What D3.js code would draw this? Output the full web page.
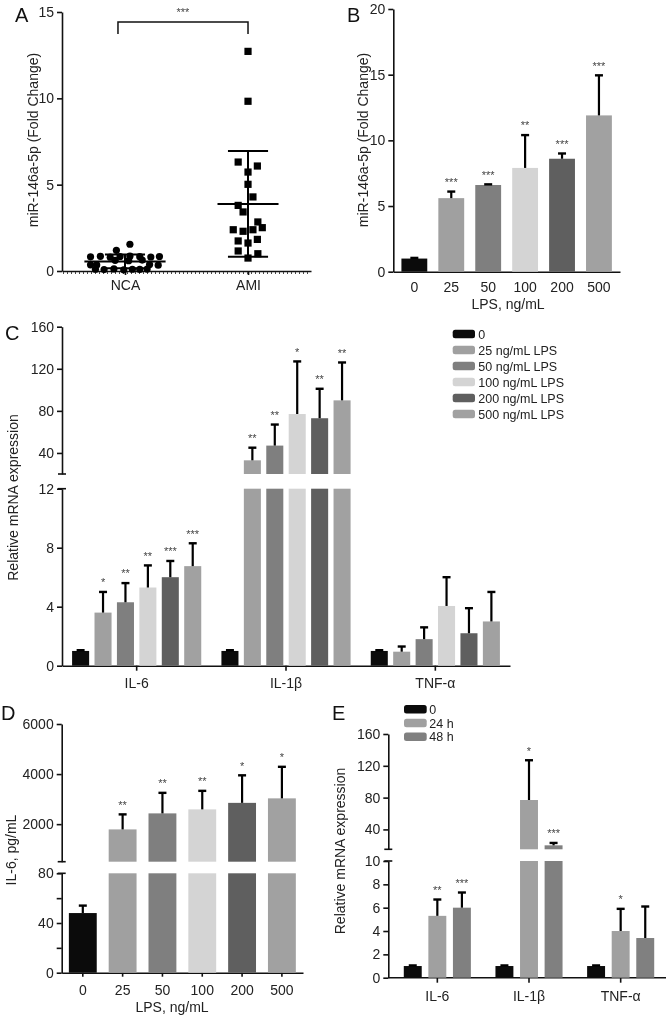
<!DOCTYPE html>
<html>
<head>
<meta charset="utf-8">
<script src="https://cdn.jsdelivr.net/npm/d3@7"></script>
<style>
  body { margin: 0; background: #fff; }
  svg { font-family: "Liberation Sans", Arial, Helvetica, sans-serif; will-change: transform; }
  .axis .tick text { font-size: 14px; fill: #222; }
  .axis path, .axis line { stroke: #111; stroke-width: 1.6; }
  .lbl { font-size: 14px; fill: #222; }
  .panel { font-size: 20px; fill: #111; }
  .star { font-size: 11px; fill: #444; }
  .leg { font-size: 12.5px; fill: #222; }
</style>
</head>
<body>
<script>
// ---- panel A: scatter ----
const groupsA = ['NCA', 'AMI']
const ncaVals = [1.55, 1.2, 0.82, 0.85, 0.8, 0.84, 0.86, 0.83, 0.81, 0.84, 0.62, 0.6, 0.63, 0.36, 0.35, 0.37, 0.34, 0.1, 0.08, 0.12, 0.07, 0.1, 0.09, 0.11]
const ncaJitter = [0.04, -0.07, -0.28, -0.2, -0.12, -0.04, 0.04, 0.12, 0.21, 0.28, -0.08, 0.03, 0.14, -0.28, -0.23, 0.2, 0.27, -0.24, -0.17, -0.09, -0.01, 0.06, 0.12, 0.18]
const amiVals = [12.72, 9.83, 6.31, 6.08, 5.73, 5.02, 4.29, 3.8, 3.42, 2.84, 2.51, 2.39, 2.3, 2.39, 1.74, 1.83, 1.62, 1.16, 1.0, 0.75]
const amiJitter = [0, 0, -0.08, 0.076, 0, 0, 0.04, -0.08, -0.04, 0.08, 0.116, -0.12, -0.04, 0.04, -0.08, 0.076, 0, -0.08, 0.08, 0]
const yTicksA = [0, 5, 10, 15]

// ---- panel B ----
const lpsDoses = ['0', '25', '50', '100', '200', '500']
const bMean = [1.0, 5.6, 6.6, 7.9, 8.6, 11.9]
const bTop = [1.05, 6.1, 6.65, 10.4, 9.0, 14.95]
const bStars = ['', '***', '***', '**', '***', '***']
const yTicksB = [0, 5, 10, 15, 20]
const lpsColors = ['#0b0b0b', '#a0a0a0', '#7f7f7f', '#d4d4d4', '#5f5f5f', '#a1a1a1']

// ---- panel C ----
const genes = ['IL-6', 'IL-1β', 'TNF-α']
const cSeries = ['0', '25 ng/mL LPS', '50 ng/mL LPS', '100 ng/mL LPS', '200 ng/mL LPS', '500 ng/mL LPS']
const cMean = [[1, 3.6, 4.3, 5.3, 6.0, 6.75], [1, 33, 47, 77, 73, 90], [1, 0.95, 1.8, 4.05, 2.2, 3.0]]
const cTop = [[1.05, 5.0, 5.6, 6.8, 7.1, 8.3], [1.05, 45, 67, 127, 101, 126], [1.05, 1.3, 2.6, 6.0, 3.9, 5.0]]
const cStars = [['', '*', '**', '**', '***', '***'], ['', '**', '**', '*', '**', '**'], ['', '', '', '', '', '']]
const cLowTicks = [0, 4, 8, 12]
const cHighTicks = [40, 80, 120, 160]

// ---- panel D ----
const dMean = [48, 1790, 2430, 2590, 2850, 3030]
const dTop = [54, 2390, 3250, 3330, 3950, 4290]
const dStars = ['', '**', '**', '**', '*', '*']
const dLowTicks = [0, 20, 40, 60, 80]
const dLowLabels = [0, 40, 80]
const dHighTicks = [2000, 4000, 6000]

// ---- panel E ----
const eSeries = ['0', '24 h', '48 h']
const eColors = ['#0b0b0b', '#a0a0a0', '#808080']
const eMean = [[1, 5.3, 6.0], [1, 77, 20], [1, 4.0, 3.4]]
const eTop = [[1.05, 6.7, 7.3], [1.05, 127, 23], [1.05, 5.9, 6.1]]
const eStars = [['', '**', '***'], ['', '*', '***'], ['', '*', '']]
const eLowTicks = [0, 2, 4, 6, 8, 10]
const eHighTicks = [40, 80, 120, 160]

const svg = d3.select('body').append('svg')
  .attr('width', 667).attr('height', 1019)

// draws bars on one or two axis segments, with upper error bar and stars
function drawBars(list, segs) {
  list.forEach(d => {
    segs.forEach(sg => {
      if (d.v <= sg.lo) return
      const top = Math.min(d.v, sg.hi)
      svg.append('rect')
        .attr('x', d.x).attr('width', d.w)
        .attr('y', sg.y(top)).attr('height', sg.y(sg.lo) - sg.y(top))
        .attr('fill', d.c)
    })
    const sg = segs.find(s => d.v > s.lo && d.v <= s.hi)
    const cx = d.x + d.w / 2
    svg.append('line')
      .attr('x1', cx).attr('x2', cx)
      .attr('y1', sg.y(d.v)).attr('y2', sg.y(d.e))
      .attr('stroke', '#000').attr('stroke-width', 2.2)
    svg.append('line')
      .attr('x1', cx - 4).attr('x2', cx + 4)
      .attr('y1', sg.y(d.e)).attr('y2', sg.y(d.e))
      .attr('stroke', '#000').attr('stroke-width', 2.4)
    if (d.s) {
      svg.append('text').attr('class', 'star')
        .attr('x', cx).attr('y', sg.y(d.e) - 5.7)
        .attr('text-anchor', 'middle').text(d.s)
    }
  })
}

function yAxis(x, scale, ticks, labels) {
  const g = svg.append('g').attr('class', 'axis')
    .attr('transform', `translate(${x},0)`)
    .call(d3.axisLeft(scale).tickValues(ticks).tickSize(5).tickPadding(3).tickSizeOuter(0)
      .tickFormat(v => (!labels || labels.includes(v)) ? v : ''))
  return g
}

function breakMark(x, y) {
  svg.append('line').attr('x1', x - 4).attr('x2', x + 4)
    .attr('y1', y).attr('y2', y)
    .attr('stroke', '#111').attr('stroke-width', 1.6)
}

function yLabel(x, y, txt) {
  svg.append('text').attr('class', 'lbl')
    .attr('transform', `translate(${x},${y}) rotate(-90)`)
    .attr('text-anchor', 'middle').text(txt)
}

function panelLetter(x, y, txt) {
  svg.append('text').attr('class', 'panel').attr('x', x).attr('y', y).text(txt)
}

// ================= A =================
const yA = d3.scaleLinear().domain([0, 15]).range([271, 12])
const xA = d3.scaleLinear().domain([-0.512, 1.512]).range([62, 311])

yAxis(62, yA, yTicksA)
svg.append('g').attr('class', 'axis')
  .attr('transform', 'translate(0,271)')
  .call(d3.axisBottom(xA).tickValues([0, 1]).tickFormat(i => groupsA[i])
    .tickSize(4).tickPadding(5).tickSizeOuter(0))
// fine ticks along the x axis
svg.append('line').attr('x1', 63).attr('x2', 311).attr('y1', 273).attr('y2', 273)
  .attr('stroke', '#444').attr('stroke-width', 2).attr('stroke-dasharray', '1 3')

svg.selectAll('.nca').data(ncaVals).enter().append('circle')
  .attr('cx', (d, i) => xA(0 + ncaJitter[i]))
  .attr('cy', d => yA(d))
  .attr('r', 3.6).attr('fill', '#000')

svg.selectAll('.ami').data(amiVals).enter().append('rect')
  .attr('x', (d, i) => xA(1 + amiJitter[i]) - 3.6)
  .attr('y', d => yA(d) - 3.6)
  .attr('width', 7.2).attr('height', 7.2).attr('fill', '#000')

// mean +/- SD
;[[ncaVals, 0, 0.33], [amiVals, 1, 0.248]].forEach(([vals, c, half]) => {
  const m = d3.mean(vals), sd = d3.deviation(vals)
  const line = (x1, x2, y1, y2) => svg.append('line')
    .attr('x1', x1).attr('x2', x2).attr('y1', y1).attr('y2', y2)
    .attr('stroke', '#000').attr('stroke-width', 2)
  line(xA(c - half), xA(c + half), yA(m), yA(m))
  line(xA(c), xA(c), yA(m - sd), yA(m + sd))
  line(xA(c - 0.163), xA(c + 0.163), yA(m + sd), yA(m + sd))
  line(xA(c - 0.163), xA(c + 0.163), yA(Math.max(0, m - sd)), yA(Math.max(0, m - sd)))
})

// significance bracket
svg.append('path')
  .attr('d', `M${xA(-0.057)},34V22H${xA(1)}V34`)
  .attr('fill', 'none').attr('stroke', '#111').attr('stroke-width', 1.5)
svg.append('text').attr('class', 'star').attr('x', xA(0.47)).attr('y', 16)
  .attr('text-anchor', 'middle').text('***')

yLabel(37.5, 140, 'miR-146a-5p (Fold Change)')
panelLetter(15, 22, 'A')

// ================= B =================
const yB = d3.scaleLinear().domain([0, 20]).range([271.7, 9])
const xB = d3.scaleBand().domain(lpsDoses).range([393.3, 620]).paddingInner(0.3).paddingOuter(0.22)

yAxis(393.3, yB, yTicksB)
svg.append('g').attr('class', 'axis')
  .attr('transform', 'translate(0,271.7)')
  .call(d3.axisBottom(xB).tickSize(0).tickPadding(10).tickSizeOuter(0))

drawBars(lpsDoses.map((k, i) => ({
  x: xB(k), w: xB.bandwidth(), v: bMean[i], e: bTop[i], c: lpsColors[i], s: bStars[i]
})), [{ y: yB, lo: 0, hi: 20 }])

svg.append('text').attr('class', 'lbl').attr('x', 508).attr('y', 309)
  .attr('text-anchor', 'middle').text('LPS, ng/mL')
yLabel(367.5, 140, 'miR-146a-5p (Fold Change)')
panelLetter(347, 22, 'B')

// ================= C =================
const yCLow = d3.scaleLinear().domain([0, 12]).range([665.7, 488.7])
const yCHigh = d3.scaleLinear().domain([20, 160]).range([474, 326.7])
const xC = d3.scaleBand().domain(genes).range([62, 510])
const xCi = d3.scaleBand().domain(cSeries).range([0, xC.bandwidth()]).paddingInner(0.24).paddingOuter(0.45)

yAxis(62, yCLow, cLowTicks)
yAxis(62, yCHigh, cHighTicks)
breakMark(62, 474)
breakMark(62, 488.7)
svg.append('g').attr('class', 'axis')
  .attr('transform', 'translate(0,665.7)')
  .call(d3.axisBottom(xC).tickSize(5).tickPadding(7).tickSizeOuter(0))

const cList = []
genes.forEach((g, gi) => cSeries.forEach((s, si) => cList.push({
  x: xC(g) + xCi(s), w: xCi.bandwidth(), v: cMean[gi][si], e: cTop[gi][si],
  c: lpsColors[si], s: cStars[gi][si]
})))
drawBars(cList, [{ y: yCLow, lo: 0, hi: 12 }, { y: yCHigh, lo: 20, hi: 160 }])

// legend C
cSeries.forEach((s, i) => {
  const cy = 334 + i * 16
  svg.append('rect').attr('x', 452.7).attr('y', cy - 4.3).attr('width', 22.3).attr('height', 8.6)
    .attr('rx', 2.5).attr('fill', lpsColors[i])
  svg.append('text').attr('class', 'leg').attr('x', 478.3).attr('y', cy + 4.5).text(s)
})

yLabel(17.5, 497.5, 'Relative mRNA expression')
panelLetter(5, 340, 'C')

// ================= D =================
const yDLow = d3.scaleLinear().domain([0, 80]).range([972.7, 873.3])
const yDHigh = d3.scaleLinear().domain([500, 6000]).range([861.7, 724])
const xD = d3.scaleBand().domain(lpsDoses).range([61.7, 303]).paddingInner(0.3).paddingOuter(0.18)

yAxis(61.7, yDLow, dLowTicks, dLowLabels)
yAxis(61.7, yDHigh, dHighTicks)
breakMark(61.7, 861.7)
breakMark(61.7, 873.3)
svg.append('g').attr('class', 'axis')
  .attr('transform', 'translate(0,972.7)')
  .call(d3.axisBottom(xD).tickSize(4).tickPadding(8).tickSizeOuter(0))

drawBars(lpsDoses.map((k, i) => ({
  x: xD(k), w: xD.bandwidth(), v: dMean[i], e: dTop[i], c: lpsColors[i], s: dStars[i]
})), [{ y: yDLow, lo: 0, hi: 80 }, { y: yDHigh, lo: 500, hi: 6000 }])

svg.append('text').attr('class', 'lbl').attr('x', 172).attr('y', 1012)
  .attr('text-anchor', 'middle').text('LPS, ng/mL')
yLabel(15.5, 850, 'IL-6, pg/mL')
panelLetter(1, 720, 'D')

// ================= E =================
const yELow = d3.scaleLinear().domain([0, 10]).range([977.7, 861])
const yEHigh = d3.scaleLinear().domain([15, 160]).range([849.3, 734])
const xE = d3.scaleBand().domain(genes).range([391.5, 666.5])
const xEi = d3.scaleBand().domain(eSeries).range([0, xE.bandwidth()]).paddingInner(0.27).paddingOuter(0.5)

yAxis(388.3, yELow, eLowTicks)
yAxis(388.3, yEHigh, eHighTicks)
breakMark(388.3, 849.3)
breakMark(388.3, 861)
const xAxisE = svg.append('g').attr('class', 'axis')
  .attr('transform', 'translate(0,977.7)')
  .call(d3.axisBottom(xE).tickSize(5).tickPadding(8).tickSizeOuter(0))
xAxisE.select('.domain').remove()
svg.append('line').attr('x1', 388.3).attr('x2', 666).attr('y1', 977.7).attr('y2', 977.7)
  .attr('stroke', '#111').attr('stroke-width', 1.6)

const eList = []
genes.forEach((g, gi) => eSeries.forEach((s, si) => eList.push({
  x: xE(g) + xEi(s), w: xEi.bandwidth(), v: eMean[gi][si], e: eTop[gi][si],
  c: eColors[si], s: eStars[gi][si]
})))
drawBars(eList, [{ y: yELow, lo: 0, hi: 10 }, { y: yEHigh, lo: 15, hi: 160 }])

// legend E
eSeries.forEach((s, i) => {
  const cy = 709.3 + i * 13.7
  svg.append('rect').attr('x', 404).attr('y', cy - 4.3).attr('width', 22.7).attr('height', 8.6)
    .attr('rx', 2.5).attr('fill', eColors[i])
  svg.append('text').attr('class', 'leg').attr('x', 429.3).attr('y', cy + 4.5).text(s)
})

yLabel(345, 851, 'Relative mRNA expression')
panelLetter(332, 720, 'E')
</script>
</body>
</html>
